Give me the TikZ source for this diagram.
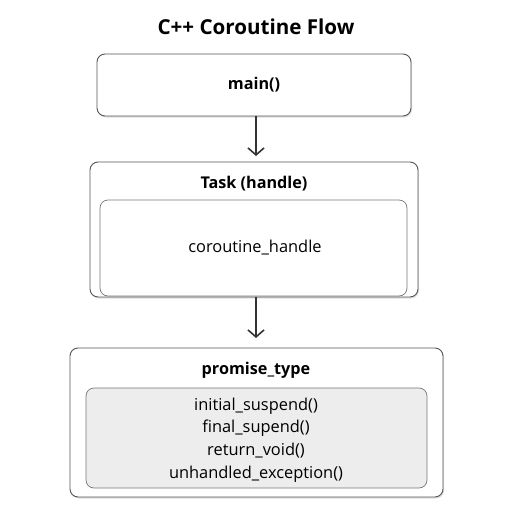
\documentclass[tikz,border=0pt]{standalone}
\usepackage{fontspec}
\setmainfont{Open Sans}
\usetikzlibrary{arrows.meta,shadows}
\definecolor{edge}{HTML}{555555}
\definecolor{innerg}{HTML}{EDEDED}
\definecolor{arr}{HTML}{333333}
\begin{document}
\begin{tikzpicture}[x=1pt,y=-1pt,
  outerbox/.style={draw=edge,line width=0.9pt,rounded corners=8pt,fill=white,
    drop shadow={shadow xshift=1pt,shadow yshift=-1.5pt,opacity=0.25}},
  innerbox/.style={draw=edge!80,line width=0.7pt,rounded corners=8pt},
  flowarrow/.style={draw=arr,line width=1.8pt,-{Straight Barb[length=7pt,width=16pt,line width=1.6pt]}},
  boldlabel/.style={font=\bfseries\fontsize{16.2}{18}\selectfont,inner sep=0pt},
  plainlabel/.style={font=\fontsize{16.4}{22.8}\selectfont,inner sep=0pt,align=center}]
\useasboundingbox (0,0) rectangle (512,512);
\fill[white] (0,0) rectangle (512,512);
\node[font=\bfseries\fontsize{20.6}{22}\selectfont,inner sep=0pt] (title) at (256,27) {C++ Coroutine Flow};
% main box
\path[outerbox] (97,54) rectangle (411,116);
\coordinate (mainbot) at (256,116);
\node[boldlabel] (main) at (254,85) {main()};
% task box
\path[outerbox] (90,162) rectangle (418,297);
\coordinate (tasktop) at (256,156);
\coordinate (taskbot) at (256,297);
\node[boldlabel] (task) at (254,184) {Task (handle)};
\draw[innerbox] (100,200) rectangle (407,296);
\node[plainlabel] (handle) at (255,248) {coroutine\_handle};
% promise box
\path[outerbox] (70,348) rectangle (443,497);
\coordinate (promtop) at (256,338);
\node[boldlabel] (prom) at (256,370) {promise\_type};
\draw[innerbox,fill=innerg] (86,388) rectangle (427,488);
\node[plainlabel] (methods) at (256,440) {initial\_suspend()\\final\_supend()\\return\_void()\\unhandled\_exception()};
\draw[flowarrow] (mainbot) -- (tasktop);
\draw[flowarrow] (taskbot) -- (promtop);
\end{tikzpicture}
\end{document}
